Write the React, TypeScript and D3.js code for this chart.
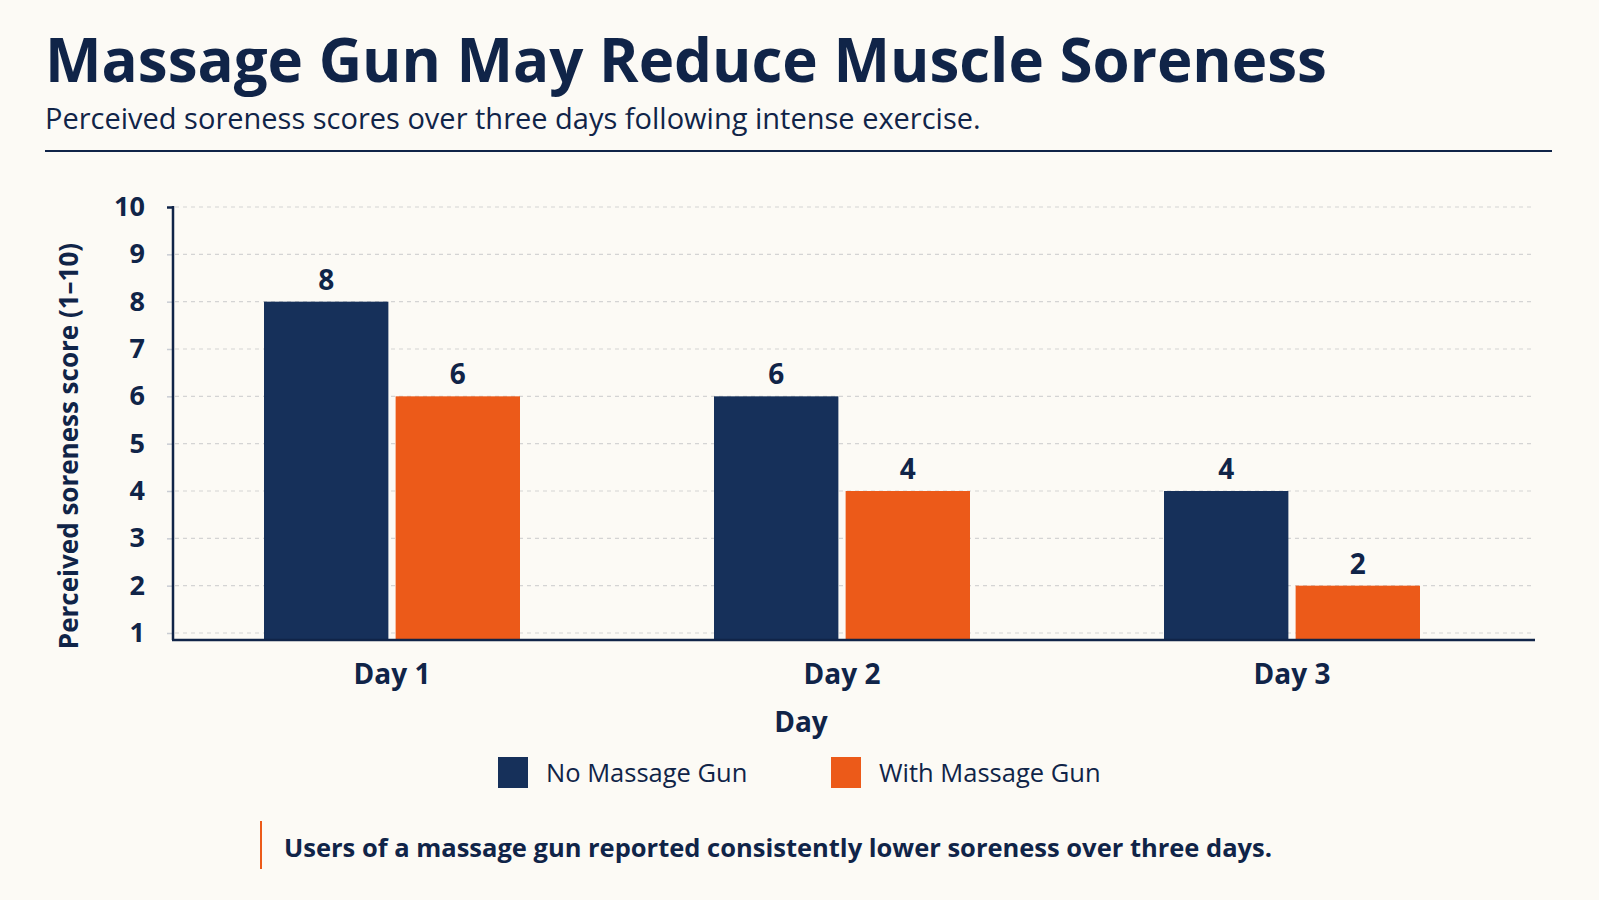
import { useRef, useEffect } from "react";
import * as d3 from "d3";

const days = ["Day 1", "Day 2", "Day 3"];
const seriesNames = ["No Massage Gun", "With Massage Gun"];
const noGun = [8, 6, 4];
const withGun = [6, 4, 2];
const yTicks = [1, 2, 3, 4, 5, 6, 7, 8, 9, 10];

const NAVY = "#16305a";
const ORANGE = "#ec5a19";
const INK = "#102448";
const BG = "#fcfaf5";
const FONT = "'Open Sans', 'Noto Sans', sans-serif";

export default function App() {
  const svgRef = useRef<SVGSVGElement>(null);

  useEffect(() => {
    if (!svgRef.current) return;
    const svg = d3.select(svgRef.current);
    svg.selectAll("*").remove();

    const width = 1599;
    const height = 900;
    svg.attr("width", width).attr("height", height).style("font-family", FONT);

    svg.append("rect").attr("width", width).attr("height", height).attr("fill", BG);

    // Header
    svg
      .append("text")
      .attr("x", 45)
      .attr("y", 82)
      .style("font-size", "60px")
      .style("font-weight", 700)
      .style("fill", INK)
      .text("Massage Gun May Reduce Muscle Soreness");
    svg
      .append("text")
      .attr("x", 45)
      .attr("y", 129)
      .style("font-size", "29px")
      .style("fill", INK)
      .text("Perceived soreness scores over three days following intense exercise.");
    svg
      .append("line")
      .attr("x1", 45)
      .attr("x2", 1552)
      .attr("y1", 151)
      .attr("y2", 151)
      .attr("stroke", INK)
      .attr("stroke-width", 2);

    const left = 173;
    const right = 1535;
    const baseline = 640;

    const x0 = d3.scaleBand().domain(days).range([167, 1517]);
    const groupW = 256;
    const x1 = d3
      .scaleBand()
      .domain(seriesNames)
      .range([x0.bandwidth() / 2 - groupW / 2, x0.bandwidth() / 2 + groupW / 2])
      .paddingInner(0.055);
    const y = d3.scaleLinear().domain([1, 10]).range([633, 207]);

    // Grid lines
    svg
      .append("g")
      .selectAll("line")
      .data(yTicks)
      .join("line")
      .attr("x1", left + 2)
      .attr("x2", right)
      .attr("y1", (d) => y(d))
      .attr("y2", (d) => y(d))
      .attr("stroke", "#d4d4d4")
      .attr("stroke-width", 1.2)
      .attr("stroke-dasharray", "4,4");

    // Y axis
    const yAxis = svg
      .append("g")
      .attr("transform", `translate(${left},0)`)
      .call(d3.axisLeft(y).tickValues(yTicks).tickSize(6).tickPadding(22));
    yAxis.select(".domain").remove();
    yAxis.selectAll(".tick line").attr("stroke", "#c9ccd3").attr("stroke-width", 1.5);
    yAxis.select(".tick:last-of-type line").attr("stroke", INK).attr("stroke-width", 2.5);
    yAxis
      .selectAll("text")
      .style("font-size", "27px")
      .style("font-weight", 700)
      .style("font-family", FONT)
      .style("fill", INK);

    svg
      .append("line")
      .attr("x1", left)
      .attr("x2", left)
      .attr("y1", y(10) - 1)
      .attr("y2", baseline)
      .attr("stroke", INK)
      .attr("stroke-width", 2.5);

    svg
      .append("text")
      .attr("transform", `translate(78,446) rotate(-90)`)
      .attr("text-anchor", "middle")
      .style("font-size", "26px")
      .style("font-weight", 700)
      .style("fill", INK)
      .text("Perceived soreness score (1–10)");

    // Bars
    const rows = days.map((day, i) => ({
      day,
      values: [
        { key: seriesNames[0], value: noGun[i], color: NAVY },
        { key: seriesNames[1], value: withGun[i], color: ORANGE },
      ],
    }));

    const groups = svg
      .append("g")
      .selectAll("g")
      .data(rows)
      .join("g")
      .attr("transform", (d) => `translate(${x0(d.day)},0)`);

    groups
      .selectAll("rect")
      .data((d) => d.values)
      .join("rect")
      .attr("x", (d) => x1(d.key)!)
      .attr("y", (d) => y(d.value))
      .attr("width", x1.bandwidth())
      .attr("height", (d) => baseline - y(d.value))
      .attr("fill", (d) => d.color);

    groups
      .selectAll("text")
      .data((d) => d.values)
      .join("text")
      .attr("x", (d) => x1(d.key)! + x1.bandwidth() / 2)
      .attr("y", (d) => y(d.value) - 12)
      .attr("text-anchor", "middle")
      .style("font-size", "28px")
      .style("font-weight", 700)
      .style("fill", INK)
      .text((d) => d.value);

    // X axis line
    svg
      .append("line")
      .attr("x1", left - 1)
      .attr("x2", right)
      .attr("y1", baseline)
      .attr("y2", baseline)
      .attr("stroke", INK)
      .attr("stroke-width", 2.5);

    svg
      .append("g")
      .selectAll("text")
      .data(days)
      .join("text")
      .attr("x", (d) => x0(d)! + x0.bandwidth() / 2)
      .attr("y", 684)
      .attr("text-anchor", "middle")
      .style("font-size", "28px")
      .style("font-weight", 700)
      .style("fill", INK)
      .text((d) => d);

    svg
      .append("text")
      .attr("x", 801)
      .attr("y", 732)
      .attr("text-anchor", "middle")
      .style("font-size", "28px")
      .style("font-weight", 700)
      .style("fill", INK)
      .text("Day");

    // Legend
    const legendItems = [
      { label: seriesNames[0], color: NAVY, x: 498 },
      { label: seriesNames[1], color: ORANGE, x: 831 },
    ];
    const leg = svg
      .append("g")
      .selectAll("g")
      .data(legendItems)
      .join("g")
      .attr("transform", (d) => `translate(${d.x},757)`);
    leg
      .append("rect")
      .attr("width", 30)
      .attr("height", 31)
      .attr("fill", (d) => d.color);
    leg
      .append("text")
      .attr("x", 48)
      .attr("y", 25)
      .style("font-size", "25.5px")
      .style("fill", INK)
      .text((d) => d.label);

    // Footnote
    svg
      .append("line")
      .attr("x1", 261)
      .attr("x2", 261)
      .attr("y1", 821)
      .attr("y2", 869)
      .attr("stroke", ORANGE)
      .attr("stroke-width", 2);
    svg
      .append("text")
      .attr("x", 284)
      .attr("y", 857)
      .style("font-size", "25.5px")
      .style("font-weight", 700)
      .style("fill", INK)
      .text("Users of a massage gun reported consistently lower soreness over three days.");

    return () => {
      svg.selectAll("*").remove();
    };
  }, []);

  return (
    <div style={{ position: "absolute", left: 0, top: 0, width: 1599, height: 900, background: BG }}>
      <svg ref={svgRef} style={{ display: "block" }} />
    </div>
  );
}
